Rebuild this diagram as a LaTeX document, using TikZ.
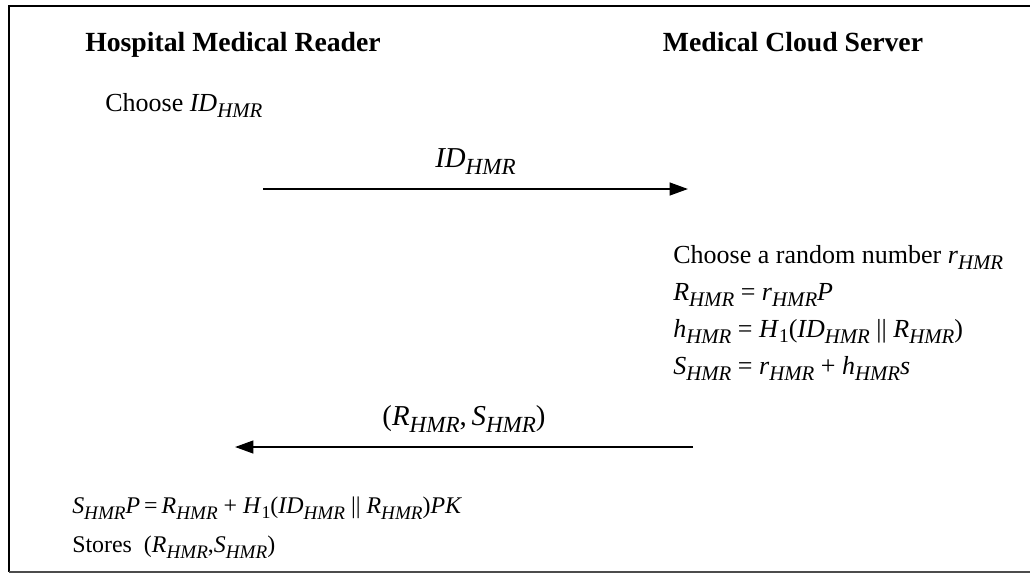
\documentclass[tikz,border=0pt]{standalone}
\usepackage{fontspec}
\usepackage{graphicx}
\setmainfont{Liberation Serif}
\usetikzlibrary{arrows.meta, positioning}
\newcommand{\hmr}[1]{\textit{#1}\raisebox{-0.55ex}{\scalebox{0.8}{\textit{HMR}}}}
\newcommand{\hone}{\textit{H}\raisebox{-0.5ex}{\scalebox{0.75}{1}}}

\begin{document}
\begin{tikzpicture}[
        x=0.025cm, y=-0.025cm,
        party/.style={anchor=base, font=\fontsize{19.7}{24}\selectfont\bfseries},
        step text/.style={anchor=base west, inner sep=0pt, font=\fontsize{18.5}{22}\selectfont},
        check text/.style={anchor=base west, inner sep=0pt, font=\fontsize{17}{21}\selectfont},
        msg label/.style={above=6pt, font=\fontsize{20.5}{25}\selectfont},
        msg/.style={-{Triangle[length=13pt,width=9pt]}, line width=1.5pt}
    ]
        \useasboundingbox (0,0) rectangle (1030,574);

        % Frame
        \draw[line width=2pt] (1030,6) -- (9,6) -- (9,572);
        \draw[line width=1.3pt, black!70] (9,572) -- (1030,572);

        % Parties
        \node[party] (hmr) at (233,51) {Hospital Medical Reader};
        \node[party] (mcs) at (793,51) {Medical Cloud Server};

        % Reader chooses identity
        \node[step text] (choose) at (105,111) {Choose \hmr{ID}};

        % Server computations
        \node[step text] (rand) at (673,263) {Choose a random number \hmr{r}};
        \node[step text] (rcomp) at (673,300) {\hmr{R} = \hmr{r}\textit{P}};
        \node[step text] (hcomp) at (673,337) {\hmr{h} = \hone(\hmr{ID} || \hmr{R})};
        \node[step text] (scomp) at (673,374) {\hmr{S} = \hmr{r} + \hmr{h}\textit{s}};

        % Reader verifies and stores
        \node[check text] (verify) at (72,513) {\hmr{S}\textit{P}\,=\,\hmr{R} + \hone(\hmr{ID} || \hmr{R})\textit{PK}};
        \node[check text] (store) at (72,552) {Stores\ \ (\hmr{R},\hmr{S})};

        % Messages
        \coordinate (m1s) at (263,189);
        \coordinate (m1e) at (688,189);
        \coordinate (m2s) at (693,447);
        \coordinate (m2e) at (235,447);
        \draw[msg] (m1s) -- node[msg label] (m1lab) {\hmr{ID}} (m1e);
        \draw[msg] (m2s) -- node[msg label] (m2lab) {(\hmr{R},\,\hmr{S})} (m2e);
    \end{tikzpicture}
\end{document}
